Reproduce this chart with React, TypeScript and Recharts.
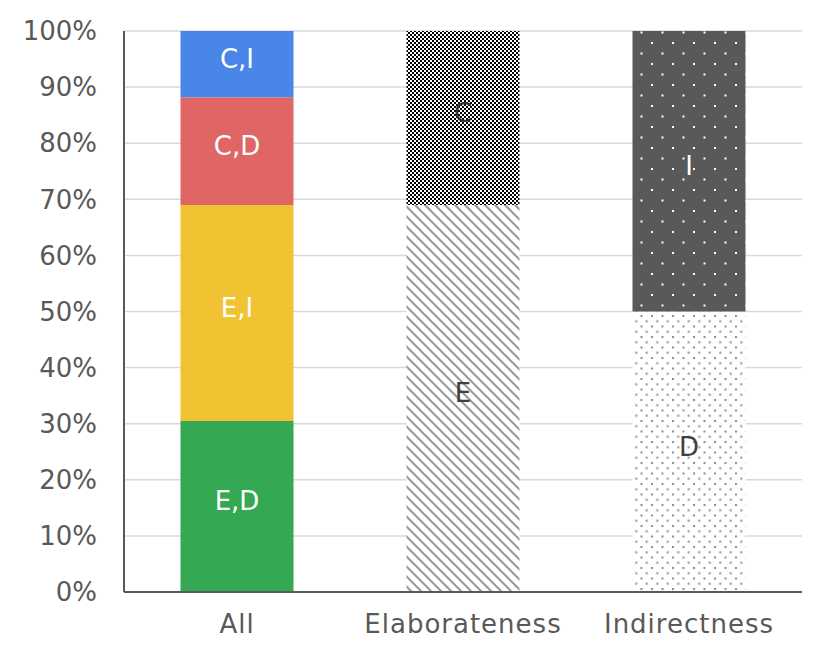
import { BarChart, Bar, XAxis, YAxis, CartesianGrid, LabelList } from 'recharts'

const categories = ['All', 'Elaborateness', 'Indirectness']

// share of each segment per category (0..1)
const edValues = [0.305, 0, 0]
const eiValues = [0.385, 0, 0]
const cdValues = [0.192, 0, 0]
const ciValues = [0.118, 0, 0]
const eValues = [0, 0.69, 0]
const cValues = [0, 0.31, 0]
const dValues = [0, 0, 0.5]
const iValues = [0, 0, 0.5]

const yTicks = [0, 0.1, 0.2, 0.3, 0.4, 0.5, 0.6, 0.7, 0.8, 0.9, 1]

const data = categories.map((name, i) => ({
  name,
  ed: edValues[i], ei: eiValues[i], cd: cdValues[i], ci: ciValues[i],
  e: eValues[i], c: cValues[i], d: dValues[i], i: iValues[i],
}))

const series = [
  { key: 'ed', label: 'E,D', fill: '#34a853', text: '#ffffff' },
  { key: 'ei', label: 'E,I', fill: '#f1c232', text: '#ffffff' },
  { key: 'cd', label: 'C,D', fill: '#e06666', text: '#ffffff' },
  { key: 'ci', label: 'C,I', fill: '#4a86e8', text: '#ffffff' },
  { key: 'e', label: 'E', fill: 'url(#diag)', text: '#404040' },
  { key: 'c', label: 'C', fill: 'url(#checker)', text: '#333333' },
  { key: 'd', label: 'D', fill: 'url(#lightDots)', text: '#404040' },
  { key: 'i', label: 'I', fill: 'url(#darkDots)', text: '#ffffff' },
]

const FONT = '"DejaVu Sans", sans-serif'

function makeLabel(text: string, color: string) {
  return (props: any) => {
    const { x, y, width, height, value } = props
    if (!value) return null
    return (
      <text
        x={x + width / 2}
        y={y + height / 2 - 5}
        textAnchor="middle"
        dominantBaseline="central"
        fill={color}
        fontSize={26}
        fontFamily={FONT}
      >
        {text}
      </text>
    )
  }
}

export default function App() {
  return (
    <div style={{ position: 'absolute', left: 0, top: 0, background: '#fff' }}>
      <BarChart
        width={830}
        height={662}
        data={data}
        margin={{ top: 31, right: 28, left: 0, bottom: 30 }}
        barCategoryGap="25%"
      >
        <defs>
          <pattern id="checker" width="4" height="4" patternUnits="userSpaceOnUse">
            <rect width="4" height="4" fill="#ffffff" />
            <rect x="0" y="0" width="2" height="2" fill="#000000" />
            <rect x="2" y="2" width="2" height="2" fill="#000000" />
          </pattern>
          <pattern id="diag" width="10" height="10" patternUnits="userSpaceOnUse">
            <rect width="10" height="10" fill="#ffffff" />
            <path d="M-1,-1 L11,11 M-6,4 L6,16 M4,-6 L16,6" stroke="#999999" strokeWidth="2" />
          </pattern>
          <pattern id="darkDots" width="21" height="21" patternUnits="userSpaceOnUse">
            <rect width="21" height="21" fill="#595959" />
            <rect x="0" y="0" width="2" height="2" fill="#ffffff" />
            <rect x="10.5" y="10.5" width="2" height="2" fill="#ffffff" />
          </pattern>
          <pattern id="lightDots" width="10.5" height="10.5" patternUnits="userSpaceOnUse">
            <rect width="10.5" height="10.5" fill="#ffffff" />
            <rect x="0" y="0" width="2" height="2" fill="#8c8c8c" />
            <rect x="5.25" y="5.25" width="2" height="2" fill="#8c8c8c" />
          </pattern>
        </defs>
        <CartesianGrid stroke="#d9d9d9" strokeWidth={1.5} vertical={false} />
        <XAxis
          dataKey="name"
          tick={{ fontSize: 26, fill: '#595959', fontFamily: FONT, letterSpacing: 1 }}
          tickLine={false}
          tickSize={0}
          tickMargin={23}
          axisLine={{ stroke: '#595959', strokeWidth: 2 }}
          height={40}
        />
        <YAxis
          domain={[0, 1]}
          ticks={yTicks}
          tickFormatter={(v: number) => `${Math.round(v * 100)}%`}
          tick={{ fontSize: 26, fill: '#595959', fontFamily: FONT }}
          tickLine={false}
          tickSize={0}
          tickMargin={27}
          axisLine={{ stroke: '#595959', strokeWidth: 2 }}
          width={124}
        />
        {series.map((s) => (
          <Bar key={s.key} dataKey={s.key} stackId="a" fill={s.fill} isAnimationActive={false}>
            <LabelList dataKey={s.key} content={makeLabel(s.label, s.text)} />
          </Bar>
        ))}
      </BarChart>
    </div>
  )
}
